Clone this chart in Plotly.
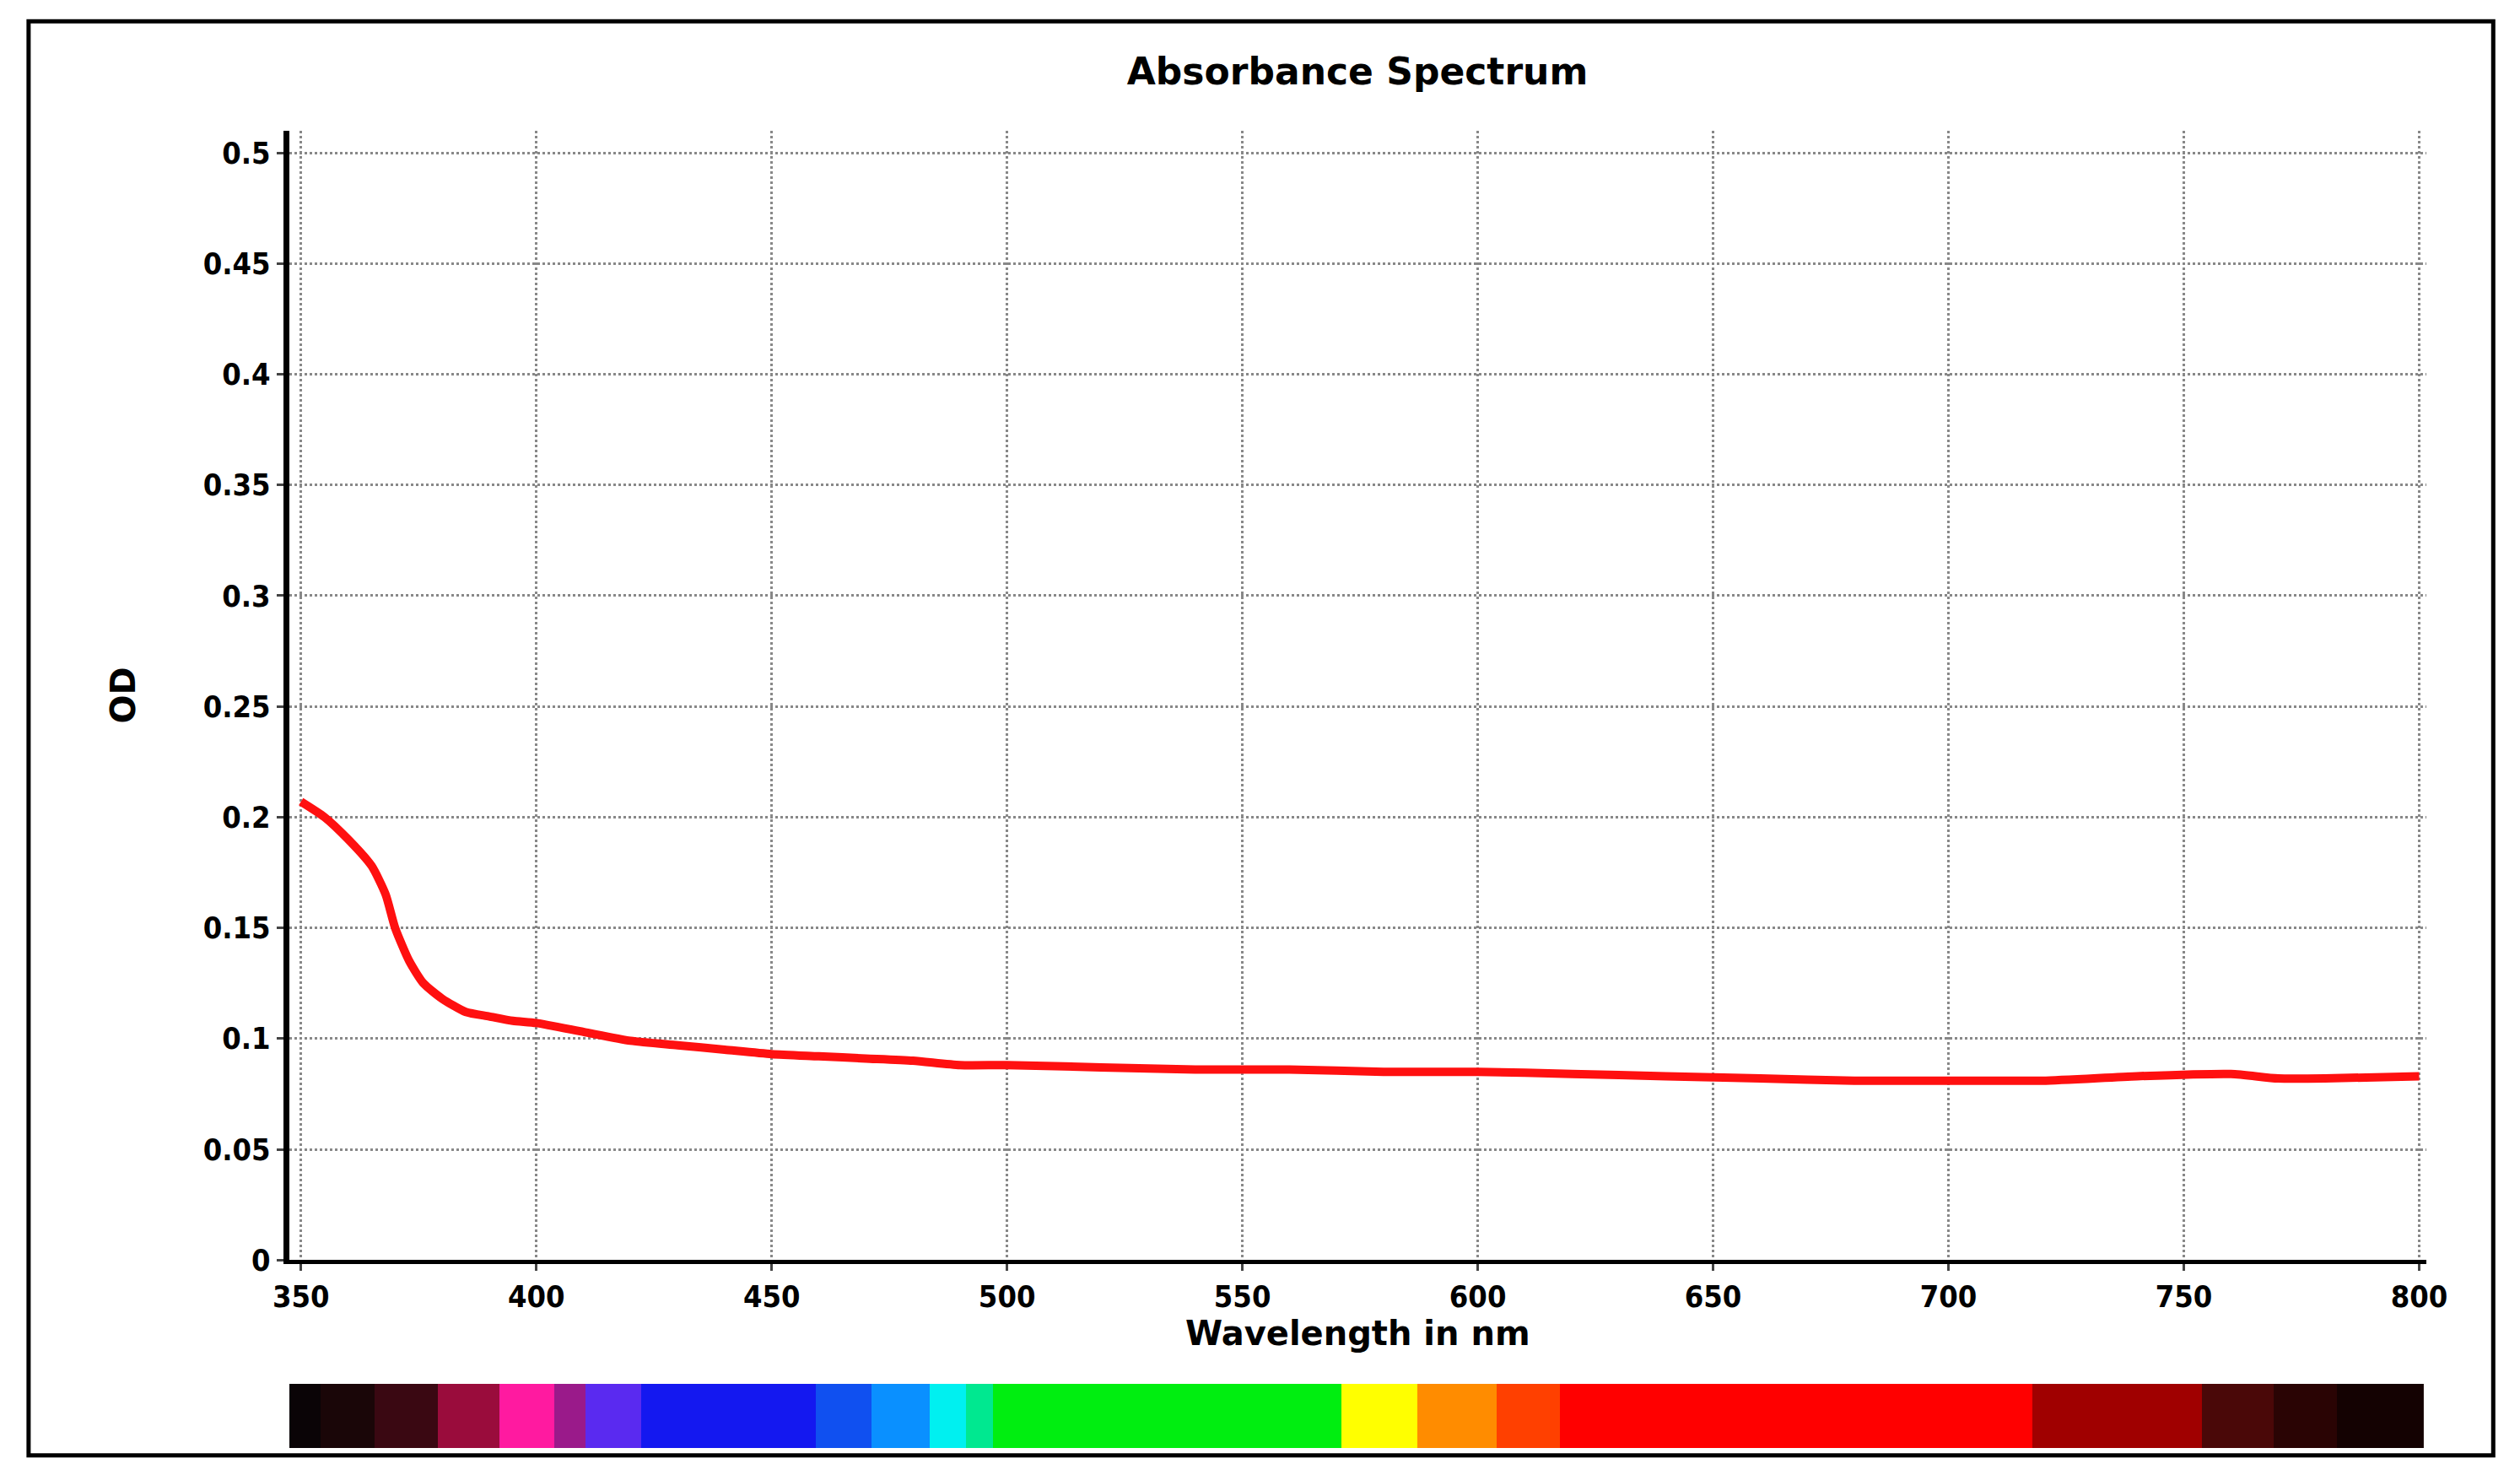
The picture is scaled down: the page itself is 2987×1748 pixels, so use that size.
import plotly.graph_objects as go

wavelength = [350,355,360,365,368,370,373,376,380,385,390,395,400,410,420,430,440,450,460,470,480,490,500,520,540,560,580,600,620,640,660,680,700,720,740,760,770,780,800]
od = [0.207,0.200,0.190,0.178,0.165,0.150,0.135,0.125,0.118,0.112,0.110,0.108,0.107,0.103,0.099,0.097,0.095,0.093,0.092,0.091,0.090,0.088,0.088,0.087,0.086,0.086,0.085,0.085,0.084,0.083,0.082,0.081,0.081,0.081,0.083,0.084,0.082,0.082,0.083]

band_edges = [347.3,354,365.5,379,392,403.7,410.5,422.3,459.5,471.3,483.8,491.5,497.3,571.6,587.8,604.7,618.2,718.9,755,770.2,783.7,802.3]
band_colors = ["#0a0406","#1a0608","#3a0812","#9a0c3c","#ff1aa0","#9a1a8a","#5a2af0","#1418f0","#1050f0","#0a90ff","#00f0f0","#00e890","#00ee10","#ffff00","#ff8c00","#ff4000","#ff0000","#a00000","#4a0808","#2a0404","#140202"]

fig = go.Figure()
fig.add_trace(go.Scatter(x=wavelength, y=od, mode="lines", line=dict(color="#ff1010", width=10, shape="spline", smoothing=0.6), showlegend=False))
fig.add_trace(go.Bar(
    x=[(a+b)/2 for a,b in zip(band_edges[:-1], band_edges[1:])],
    y=[1]*len(band_colors),
    width=[b-a for a,b in zip(band_edges[:-1], band_edges[1:])],
    marker=dict(color=band_colors, line=dict(width=0)),
    xaxis="x2", yaxis="y2", showlegend=False, hoverinfo="skip"))

font = "DejaVu Sans"
tickfont = dict(family="DejaVu Sans Condensed, DejaVu Sans", size=36, color="black", weight="bold")
fig.update_layout(
    width=2987, height=1748, plot_bgcolor="white", paper_bgcolor="white",
    margin=dict(l=0, r=0, t=0, b=0),
    title=dict(text="<b>Absorbance Spectrum</b>", x=0.536, y=0.965, xanchor="center", font=dict(family=font, size=44, color="black")),
    xaxis=dict(domain=[0.107, 0.968], range=[347.5, 801.5], tickvals=list(range(350, 801, 50)),
               showgrid=True, gridcolor="#888", griddash="dot", gridwidth=3,
               showline=True, linecolor="black", linewidth=5, ticks="outside", ticklen=8, tickwidth=3,
               tickfont=tickfont,
               title=dict(text="<b>Wavelength in nm</b>", font=dict(family=font, size=40, color="black"), standoff=8),
               zeroline=False, anchor="y"),
    yaxis=dict(domain=[0.14, 0.915], range=[0, 0.51], tickvals=[0,0.05,0.1,0.15,0.2,0.25,0.3,0.35,0.4,0.45,0.5],
               ticktext=["0","0.05","0.1","0.15","0.2","0.25","0.3","0.35","0.4","0.45","0.5"],
               showgrid=True, gridcolor="#888", griddash="dot", gridwidth=3,
               showline=True, linecolor="black", linewidth=7, ticks="outside", ticklen=8, tickwidth=3,
               tickfont=tickfont,
               title=dict(text="<b>OD</b>", font=dict(family=font, size=40, color="black"), standoff=70),
               zeroline=False),
    xaxis2=dict(domain=[0.107, 0.967], range=[347.3, 802.3], visible=False, anchor="y2"),
    yaxis2=dict(domain=[0.011, 0.055], range=[0, 1], visible=False),
    bargap=0,
    shapes=[dict(type="rect", xref="paper", yref="paper", x0=0.002, x1=0.995, y0=0.006, y1=0.99,
                 line=dict(color="black", width=5))],
)
fig.write_html("out.html")
